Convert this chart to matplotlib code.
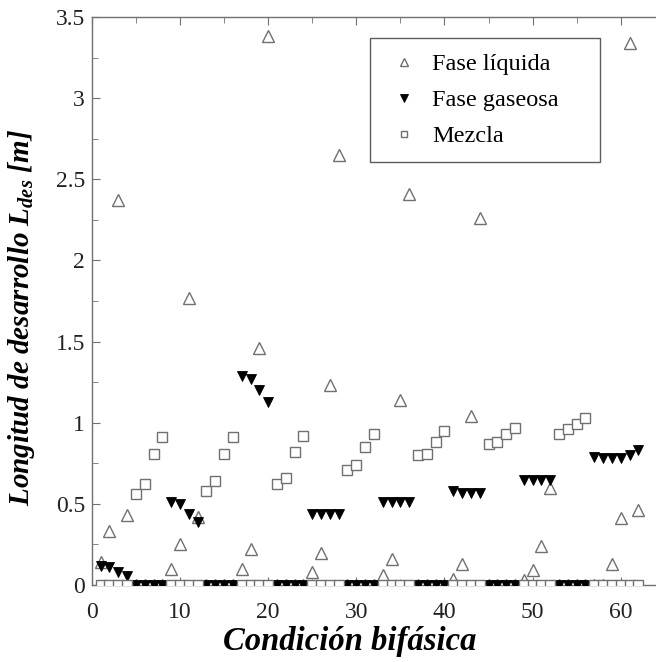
import matplotlib
matplotlib.use("Agg")
import matplotlib.pyplot as plt
from matplotlib.ticker import MultipleLocator
import numpy as np

condicion = np.arange(1, 63)  # condición bifásica 1..62

liquida = [0.14, 0.33, 2.37, 0.43, 0, 0, 0, 0,
           0.10, 0.25, 1.77, 0.42, 0, 0, 0, 0,
           0.10, 0.22, 1.46, 3.38, 0, 0, 0, 0,
           0.08, 0.20, 1.23, 2.65, 0, 0, 0, 0,
           0.06, 0.16, 1.14, 2.41, 0, 0, 0, 0,
           0.04, 0.13, 1.04, 2.26, 0, 0, 0, 0,
           0.03, 0.09, 0.24, 0.60, 0, 0, 0, 0,
           0, 0, 0.13, 0.41, 3.34, 0.46]

gaseosa = [0.12, 0.11, 0.08, 0.055, 0, 0, 0, 0,
           0.51, 0.50, 0.44, 0.39, 0, 0, 0, 0,
           1.29, 1.27, 1.20, 1.13, 0, 0, 0, 0,
           0.44, 0.44, 0.44, 0.44, 0, 0, 0, 0,
           0.51, 0.51, 0.51, 0.51, 0, 0, 0, 0,
           0.58, 0.57, 0.57, 0.57, 0, 0, 0, 0,
           0.65, 0.65, 0.65, 0.65, 0, 0, 0, 0,
           0.79, 0.785, 0.785, 0.785, 0.80, 0.83]

mezcla = [0, 0, 0, 0, 0.56, 0.62, 0.81, 0.91,
          0, 0, 0, 0, 0.58, 0.64, 0.81, 0.91,
          0, 0, 0, 0, 0.62, 0.66, 0.82, 0.92,
          0, 0, 0, 0, 0.71, 0.74, 0.85, 0.93,
          0, 0, 0, 0, 0.80, 0.81, 0.88, 0.95,
          0, 0, 0, 0, 0.87, 0.88, 0.93, 0.97,
          0, 0, 0, 0, 0.93, 0.96, 0.99, 1.03,
          0, 0, 0, 0, 0, 0]

plt.rcParams['font.family'] = ['Liberation Serif', 'DejaVu Serif']
plt.rcParams['mathtext.fontset'] = 'custom'
plt.rcParams['mathtext.it'] = 'Liberation Serif:italic:bold'
plt.rcParams['mathtext.rm'] = 'Liberation Serif:bold'

fig = plt.figure(figsize=(6.56, 6.62), dpi=100)
ax = fig.add_axes([0.140, 0.1163, 0.860, 0.858])

gris = '#707070'
ax.plot(condicion, liquida, linestyle='none', marker='^', markersize=8.5,
        markerfacecolor='white', markeredgecolor=gris, markeredgewidth=1.0,
        label='Fase líquida', zorder=2)
ax.plot(condicion, gaseosa, linestyle='none', marker='v', markersize=7.5,
        markerfacecolor='black', markeredgecolor='black', markeredgewidth=0.6,
        label='Fase gaseosa', zorder=3)
ax.plot(condicion, mezcla, linestyle='none', marker='s', markersize=7,
        markerfacecolor='white', markeredgecolor=gris, markeredgewidth=1.0,
        label='Mezcla', zorder=4)

ax.set_xlim(0, 64)
ax.set_ylim(0, 3.5)
ax.xaxis.set_major_locator(MultipleLocator(10))
ax.xaxis.set_minor_locator(MultipleLocator(5))
ax.yaxis.set_minor_locator(MultipleLocator(0.25))
ax.set_yticks([0, 0.5, 1, 1.5, 2, 2.5, 3, 3.5])
ax.set_yticklabels(['0', '0.5', '1', '1.5', '2', '2.5', '3', '3.5'])
ax.tick_params(which='both', direction='in', top=True, right=False,
               labelsize=17, colors='#222222')
ax.tick_params(axis='x', pad=12)
ax.tick_params(axis='y', pad=5)
ax.tick_params(which='major', length=6, color=gris)
ax.tick_params(which='minor', length=4, color=gris)
for s in ['left', 'bottom', 'top']:
    ax.spines[s].set_color(gris)
    ax.spines[s].set_linewidth(1.0)
ax.spines['right'].set_visible(False)

ax.set_xlabel('Condición bifásica', fontsize=23.5, fontstyle='italic',
              fontweight='bold')
ax.xaxis.set_label_coords(0.457, -0.072)
ax.set_ylabel('Longitud de desarrollo $L_{des}$ [m]', fontsize=21,
              fontstyle='italic', fontweight='bold')
ax.yaxis.set_label_coords(-0.097, 0.472)

leg = ax.legend(loc='upper left', bbox_to_anchor=(0.493, 0.5, 0.408, 0.463),
                mode='expand', fontsize=17.5, markerscale=0.7, frameon=True,
                fancybox=False, borderpad=0.62, labelspacing=0.58,
                handletextpad=0.35, handlelength=1.6, borderaxespad=0)
leg.get_frame().set_edgecolor('#333333')
leg.get_frame().set_linewidth(1.0)

fig.savefig('out.png', dpi=100)
